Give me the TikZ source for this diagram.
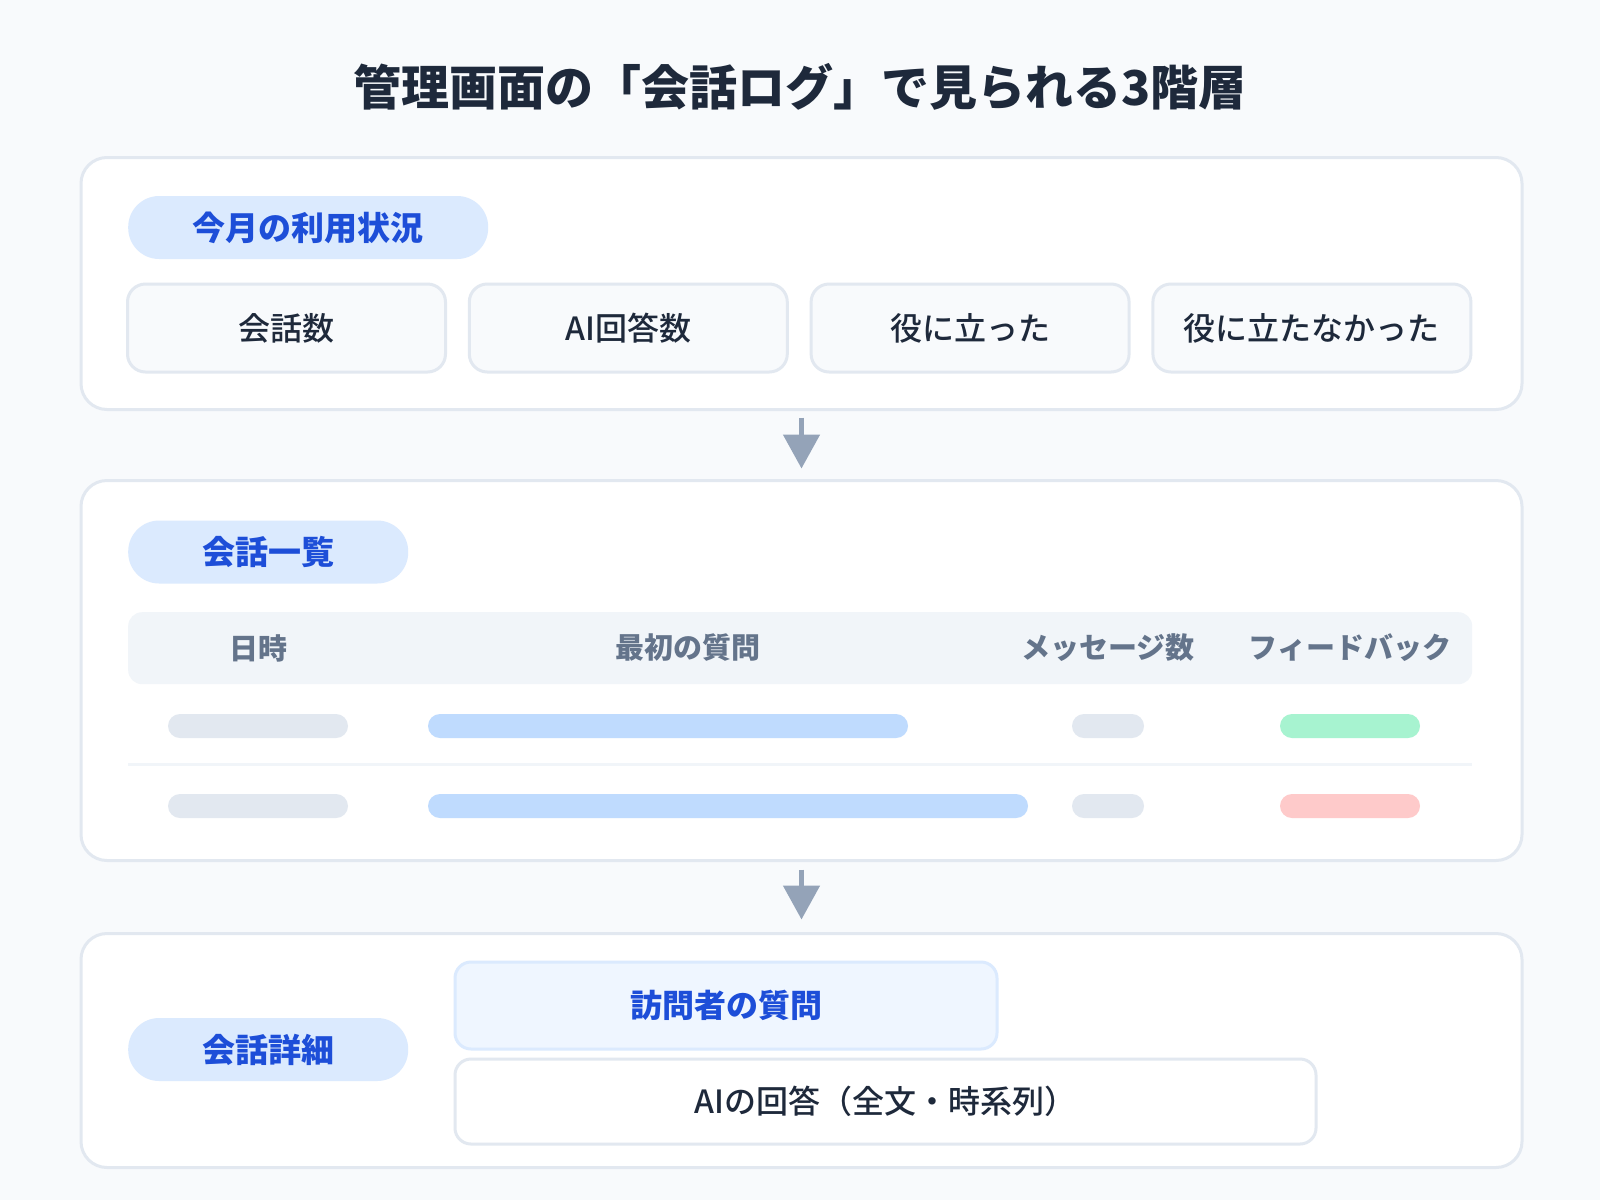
\documentclass[tikz,border=0pt]{standalone}
\usepackage{fontspec}
\setmainfont{Noto Sans CJK JP}
\newfontfamily\mediumfont{Noto Sans CJK JP Medium}
\usetikzlibrary{arrows.meta,positioning}

\definecolor{pagebg}{HTML}{F8FAFC}
\definecolor{edge}{HTML}{E2E8F0}
\definecolor{ink}{HTML}{1E293B}
\definecolor{mute}{HTML}{64748B}
\definecolor{pillfill}{HTML}{DBEAFE}
\definecolor{pillink}{HTML}{1D4ED8}
\definecolor{headfill}{HTML}{F1F5F9}
\definecolor{askfill}{HTML}{EFF6FF}
\definecolor{barblue}{HTML}{BFDBFE}
\definecolor{bargreen}{HTML}{A7F3D0}
\definecolor{barred}{HTML}{FECACA}
\definecolor{arrowgray}{HTML}{94A3B8}

\newcommand{\fsz}[1]{\fontsize{#1}{#1}\selectfont}

\begin{document}
\begin{tikzpicture}[
    x=1pt, y=-1pt,
    box/.style={draw=edge, line width=3pt, align=center, inner sep=0pt, text=ink},
    layer/.style={box, fill=white, rounded corners=26pt, minimum width=1441pt, anchor=north west},
    card/.style={box, fill=pagebg, rounded corners=18pt, minimum width=318pt, minimum height=88pt, font=\mediumfont\fsz{32}},
    pill/.style={fill=pillfill, rounded corners=31pt, minimum height=63pt, inner sep=0pt, anchor=west, text=pillink, font=\fsz{33}\bfseries},
    headtext/.style={text=mute, font=\fsz{29}\bfseries},
    bar/.style={rounded corners=12pt},
    arrow/.style={draw=arrowgray, line width=5pt, -{Triangle[width=36pt,length=34pt]}}
]

% Page
\useasboundingbox[fill=pagebg] (0,0) rectangle (1600,1200);

% Title
\node[font=\fsz{48}\bfseries, text=ink] (title) at (800,87) {管理画面の「会話ログ」で見られる3階層};

% Layers
\node[layer, minimum height=252pt] (usage) at (79.5,156) {};
\node[layer, minimum height=380pt] (list) at (79.5,479) {};
\node[layer, minimum height=234pt] (detail) at (79.5,932) {};

% Usage this month
\node[pill, minimum width=360pt] (usagepill) at (128,227.5) {今月の利用状況};
\foreach \txt [count=\i] in {会話数, AI回答数, 役に立った, 役に立たなかった}
    \node[card] (card\i) at ({286.5+341.8*(\i-1)},328) {\txt};

% Conversation list
\node[pill, minimum width=280pt] (listpill) at (128,552) {会話一覧};
\node[fill=headfill, rounded corners=14pt, minimum width=1344pt, minimum height=72pt, anchor=north west] (headrow) at (128,612) {};
\node[headtext] (hdate) at (258,648) {日時};
\node[headtext] (hquestion) at (688,648) {最初の質問};
\node[headtext] (hcount) at (1108,648) {メッセージ数};
\node[headtext] (hfeedback) at (1350,648) {フィードバック};

% Rows
\fill[bar, edge] (168,714) rectangle (348,738);
\fill[bar, barblue] (428,714) rectangle (908,738);
\fill[bar, edge] (1072,714) rectangle (1144,738);
\fill[bar, bargreen] (1280,714) rectangle (1420,738);
\draw[headfill, line width=3pt] (128,764) -- (1472,764);
\fill[bar, edge] (168,794) rectangle (348,818);
\fill[bar, barblue] (428,794) rectangle (1028,818);
\fill[bar, edge] (1072,794) rectangle (1144,818);
\fill[bar, barred] (1280,794) rectangle (1420,818);

% Conversation detail
\node[pill, minimum width=280pt] (detailpill) at (128,1049.5) {会話詳細};
\node[box, draw=pillfill, fill=askfill, rounded corners=16pt, minimum width=542pt, minimum height=87pt, text=pillink, font=\fsz{32}\bfseries] (ask) at (726,1005.5) {訪問者の質問};
\node[box, fill=white, rounded corners=16pt, minimum width=861pt, minimum height=85pt, font=\mediumfont\fsz{32}] (answer) at (885.5,1101.5) {AIの回答（全文・時系列）};

% Flow between layers
\draw[arrow] ([yshift=-6.5pt]usage.south) -- ([yshift=10.5pt]list.north);
\draw[arrow] ([yshift=-7.5pt]list.south) -- ([yshift=12.5pt]detail.north);

\end{tikzpicture}
\end{document}
